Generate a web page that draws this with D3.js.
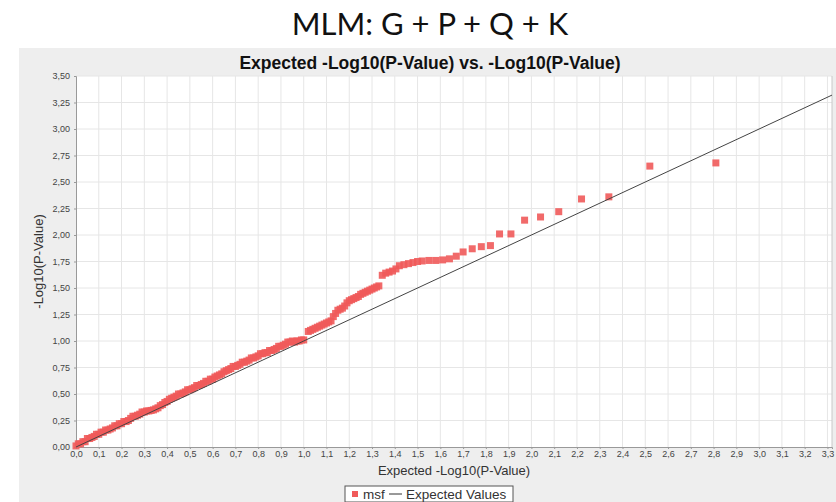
<!DOCTYPE html>
<html>
<head>
<meta charset="utf-8">
<script src="https://cdn.jsdelivr.net/npm/d3@7"></script>
<style>
  body { margin: 0; background: #fff; }
  svg { display: block; }
</style>
</head>
<body>
<svg id="chart"></svg>
<script>
const expectedVals = [
  0.00, 0.02, 0.04, 0.06, 0.08, 0.10, 0.12, 0.14, 0.16, 0.18,
  0.20, 0.22, 0.24, 0.26, 0.28, 0.30, 0.32, 0.34, 0.36, 0.38,
  0.40, 0.42, 0.44, 0.46, 0.48, 0.50, 0.52, 0.54, 0.56, 0.58,
  0.60, 0.62, 0.64, 0.66, 0.68, 0.70, 0.72, 0.74, 0.76, 0.78,
  0.80, 0.82, 0.84, 0.86, 0.88, 0.90, 0.92, 0.94, 0.96, 0.98,
  1.00, 1.02, 1.04, 1.06, 1.08, 1.10, 1.12, 1.13, 1.15, 1.17,
  1.19, 1.20, 1.22, 1.24, 1.26, 1.28, 1.30, 1.31, 1.33, 1.345,
  1.36, 1.375, 1.39, 1.405, 1.42, 1.44, 1.46, 1.48, 1.50, 1.52,
  1.55, 1.58, 1.61, 1.64, 1.67, 1.70, 1.74, 1.78, 1.82, 1.86,
  1.91, 1.97, 2.04, 2.12, 2.22, 2.34, 2.52, 2.81,
  // in-between points of the dense band
  0.01, 0.03, 0.05, 0.07, 0.09, 0.11, 0.13, 0.15, 0.17, 0.19,
  0.21, 0.23, 0.25, 0.27, 0.29, 0.31, 0.33, 0.35, 0.37, 0.39,
  0.41, 0.43, 0.45, 0.47, 0.49, 0.51, 0.53, 0.55, 0.57, 0.59,
  0.61, 0.63, 0.65, 0.67, 0.69, 0.71, 0.73, 0.75, 0.77, 0.79,
  0.81, 0.83, 0.85, 0.87, 0.89, 0.91, 0.93, 0.95, 0.97, 0.99,
  1.03, 1.05, 1.07, 1.09, 1.11, 1.14, 1.16, 1.18, 1.21, 1.23,
  1.25, 1.27, 1.29, 1.32
];
const observedVals = [
  0.01, 0.03, 0.05, 0.08, 0.10, 0.12, 0.14, 0.16, 0.18, 0.20,
  0.22, 0.24, 0.27, 0.29, 0.31, 0.33, 0.34, 0.35, 0.37, 0.40,
  0.43, 0.46, 0.48, 0.50, 0.52, 0.54, 0.56, 0.58, 0.60, 0.62,
  0.64, 0.67, 0.69, 0.72, 0.74, 0.76, 0.78, 0.80, 0.82, 0.84,
  0.86, 0.88, 0.89, 0.91, 0.93, 0.95, 0.97, 0.99, 0.99, 1.00,
  1.01, 1.09, 1.11, 1.13, 1.15, 1.17, 1.19, 1.23, 1.29, 1.31,
  1.36, 1.38, 1.40, 1.42, 1.45, 1.47, 1.49, 1.50, 1.52, 1.62,
  1.64, 1.65, 1.66, 1.68, 1.71, 1.72, 1.73, 1.74, 1.75, 1.755,
  1.76, 1.76, 1.765, 1.775, 1.80, 1.84, 1.87, 1.89, 1.90, 2.01,
  2.01, 2.14, 2.17, 2.22, 2.34, 2.36, 2.65, 2.68,
  0.03, 0.05, 0.08, 0.09, 0.12, 0.14, 0.16, 0.17, 0.20, 0.22,
  0.24, 0.25, 0.29, 0.30, 0.33, 0.34, 0.345, 0.36, 0.39, 0.42,
  0.45, 0.47, 0.50, 0.51, 0.54, 0.55, 0.58, 0.59, 0.62, 0.64,
  0.66, 0.68, 0.71, 0.73, 0.76, 0.77, 0.80, 0.81, 0.84, 0.85,
  0.88, 0.89, 0.91, 0.92, 0.95, 0.96, 0.99, 1.00, 1.00, 1.01,
  1.10, 1.12, 1.14, 1.16, 1.18, 1.26, 1.30, 1.33, 1.39, 1.41,
  1.44, 1.46, 1.48, 1.51
];
const xTicks = [0.0,0.1,0.2,0.3,0.4,0.5,0.6,0.7,0.8,0.9,1.0,1.1,1.2,1.3,1.4,1.5,1.6,
                1.7,1.8,1.9,2.0,2.1,2.2,2.3,2.4,2.5,2.6,2.7,2.8,2.9,3.0,3.1,3.2,3.3];
const yTicks = [0, 0.25, 0.5, 0.75, 1.0, 1.25, 1.5, 1.75, 2.0, 2.25, 2.5, 2.75, 3.0, 3.25, 3.5];
const lineEnds = [0, 3.32];

const W = 836, H = 502;
const pLeft = 76, pRight = 832, pTop = 76, pBottom = 447;
const font = "'Liberation Sans', Arial, sans-serif";

const svg = d3.select("#chart").attr("width", W).attr("height", H);

// big heading
svg.append("text")
    .attr("x", 430).attr("y", 35)
    .attr("text-anchor", "middle")
    .attr("font-family", "Lato, 'Open Sans', sans-serif")
    .attr("font-size", "31px")
    .attr("fill", "#111")
    .text("MLM: G + P + Q + K");

// gray chart panel
svg.append("rect")
    .attr("x", 19).attr("y", 48)
    .attr("width", W - 19).attr("height", H - 48)
    .attr("fill", "#eeeeee");

svg.append("text")
    .attr("x", 430).attr("y", 68.5)
    .attr("text-anchor", "middle")
    .attr("font-family", font)
    .attr("font-weight", "bold")
    .attr("font-size", "17.5px")
    .attr("fill", "#111")
    .text("Expected -Log10(P-Value) vs. -Log10(P-Value)");

const x = d3.scaleLinear().domain([0, 3.32]).range([pLeft, pRight]);
const y = d3.scaleLinear().domain([0, 3.5]).range([pBottom, pTop]);

svg.append("rect")
    .attr("x", pLeft).attr("y", pTop)
    .attr("width", pRight - pLeft).attr("height", pBottom - pTop)
    .attr("fill", "#fff");

// grid
svg.append("g").selectAll("line")
    .data(xTicks.slice(1))
    .enter().append("line")
    .attr("x1", d => x(d)).attr("x2", d => x(d))
    .attr("y1", pTop).attr("y2", pBottom)
    .attr("stroke", "#e6e6e6").attr("stroke-width", 1);
svg.append("g").selectAll("line")
    .data(yTicks.slice(1))
    .enter().append("line")
    .attr("x1", pLeft).attr("x2", pRight)
    .attr("y1", d => y(d)).attr("y2", d => y(d))
    .attr("stroke", "#e6e6e6").attr("stroke-width", 1);

svg.append("line")
    .attr("x1", pRight).attr("x2", pRight).attr("y1", pTop).attr("y2", pBottom)
    .attr("stroke", "#c8c8c8");

const comma = d => d3.format(".1f")(d).replace(".", ",");
const comma2 = d => d3.format(".2f")(d).replace(".", ",");

const xAxis = svg.append("g")
    .attr("transform", `translate(0,${pBottom})`)
    .call(d3.axisBottom(x).tickValues(xTicks).tickFormat(comma).tickSize(2).tickPadding(2));
const yAxis = svg.append("g")
    .attr("transform", `translate(${pLeft},0)`)
    .call(d3.axisLeft(y).tickValues(yTicks).tickFormat(comma2).tickSize(2).tickPadding(4));
[xAxis, yAxis].forEach(a => {
    a.select(".domain").attr("stroke", "#999");
    a.selectAll(".tick line").attr("stroke", "#999");
    a.selectAll("text").attr("font-family", font).attr("font-size", "9px").attr("fill", "#444");
});

// points
const pts = expectedVals.map((e, i) => ({ e: e, o: observedVals[i] }));
const sz = 7;
svg.append("g").selectAll("rect")
    .data(pts)
    .enter().append("rect")
    .attr("x", d => x(d.e) - sz / 2)
    .attr("y", d => y(d.o) - sz / 2)
    .attr("width", sz).attr("height", sz)
    .attr("fill", "#f05a5a")
    .attr("fill-opacity", 0.9);

// expected line
svg.append("line")
    .attr("x1", x(lineEnds[0])).attr("y1", y(lineEnds[0]))
    .attr("x2", x(lineEnds[1])).attr("y2", y(lineEnds[1]))
    .attr("stroke", "#444").attr("stroke-width", 1);

// axis titles
svg.append("text")
    .attr("x", (pLeft + pRight) / 2).attr("y", 475)
    .attr("text-anchor", "middle")
    .attr("font-family", font).attr("font-size", "13px").attr("fill", "#333")
    .text("Expected -Log10(P-Value)");
svg.append("text")
    .attr("transform", `translate(43,${(pTop + pBottom) / 2}) rotate(-90)`)
    .attr("text-anchor", "middle")
    .attr("font-family", font).attr("font-size", "13px").attr("fill", "#333")
    .text("-Log10(P-Value)");

// legend
const lg = svg.append("g").attr("transform", "translate(345,486)");
lg.append("rect").attr("width", 168).attr("height", 16)
    .attr("fill", "#fff").attr("stroke", "#555");
lg.append("rect").attr("x", 7).attr("y", 5).attr("width", 6).attr("height", 6)
    .attr("fill", "#f05a5a");
lg.append("text").attr("x", 18).attr("y", 13)
    .attr("font-family", font).attr("font-size", "13.5px").attr("fill", "#333")
    .text("msf");
lg.append("line").attr("x1", 44).attr("x2", 57).attr("y1", 8).attr("y2", 8)
    .attr("stroke", "#333");
lg.append("text").attr("x", 61).attr("y", 13)
    .attr("font-family", font).attr("font-size", "13.5px").attr("fill", "#333")
    .text("Expected Values");
</script>
</body>
</html>
